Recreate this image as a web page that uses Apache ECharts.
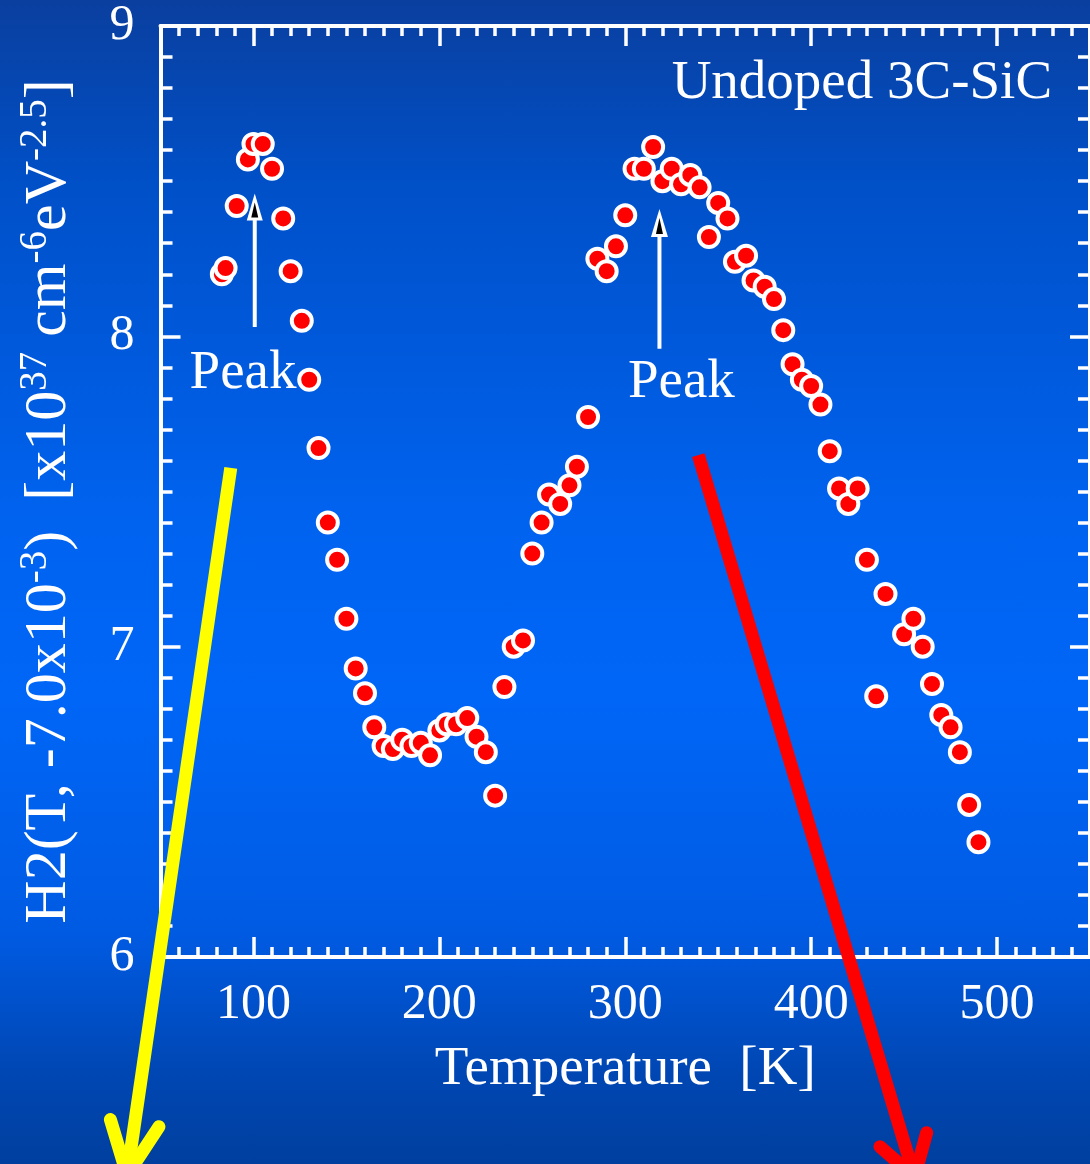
<!DOCTYPE html>
<html>
<head>
<meta charset="utf-8">
<title>H2(T) spectrum – undoped 3C-SiC</title>
<script src="https://cdn.jsdelivr.net/npm/echarts@6/dist/echarts.min.js"></script>
<style>
  html, body { margin: 0; padding: 0; }
  #chart {
    width: 1090px; height: 1164px;
    background: linear-gradient(to bottom, #0a3f9f 0%, #0050c8 16%, #0063f0 45%, #0066f7 60%, #005be3 80%, #0047b4 92%, #003f9e 100%);
  }
</style>
</head>
<body>
<div id="chart"></div>
<script>
// Measured H2(T, -7.0x10^-3) values versus temperature
const temperatureK = [
  83, 85, 91, 97, 100, 105, 110, 116, 120, 126, 130, 135,
  140, 145, 150, 155, 160, 165, 170, 175, 180, 185, 190, 195,
  200, 204, 209, 215, 220, 225, 230, 235, 240, 245, 250, 255,
  259, 265, 270, 274, 280, 285, 290, 295, 300, 305, 310, 315,
  320, 325, 330, 335, 340, 345, 350, 355, 359, 365, 369, 375,
  380, 385, 390, 395, 400, 405, 410, 415, 420, 425, 430, 435,
  440, 450, 455, 460, 465, 470, 475, 480, 485, 490
];
const h2Values = [
  8.20, 8.22, 8.42, 8.57, 8.62, 8.62, 8.54, 8.38, 8.21, 8.05, 7.86, 7.64,
  7.40, 7.28, 7.09, 6.93, 6.85, 6.74, 6.68, 6.67, 6.70, 6.68, 6.69, 6.65,
  6.73, 6.75, 6.75, 6.77, 6.71, 6.66, 6.52, 6.87, 7.00, 7.02, 7.30, 7.40,
  7.49, 7.46, 7.52, 7.58, 7.74, 8.25, 8.21, 8.29, 8.39, 8.54, 8.54, 8.61,
  8.50, 8.54, 8.49, 8.52, 8.48, 8.32, 8.43, 8.38, 8.24, 8.26, 8.18, 8.16,
  8.12, 8.02, 7.91, 7.86, 7.84, 7.78, 7.63, 7.51, 7.46, 7.51, 7.28, 6.84,
  7.17, 7.04, 7.09, 7.00, 6.88, 6.78, 6.74, 6.66, 6.49, 6.37
];

// Axis ranges and labelled ticks
const xRange = [50, 550];
const xMajorTicks = [100, 200, 300, 400, 500];
const yRange = [6, 9];

// Annotations, in data units
const peakArrows = [
  { x: 100.7, from: 8.03, to: 8.46, head: 27, half: 8 },
  { x: 318.4, from: 7.96, to: 8.41, head: 28, half: 8.5 }
];
const noteTexts = [
  { text: 'Peak', x: 94.4, y: 7.88, align: 'center' },
  { text: 'Peak', x: 330.2, y: 7.85, align: 'center' },
  { text: 'Undoped 3C-SiC', x: 529.6, y: 8.815, align: 'right' }
];
const trendArrows = [
  { color: '#ffff00', from: [87.8, 7.576], to: [32.0, 5.297], armLen: 58, armDeg: 25 },
  { color: '#ff0000', from: [339.3, 7.617], to: [455.6, 5.291], armLen: 46, armDeg: 32 }
];

const WHITE = '#ffffff';
const SERIF = "'Liberation Serif', 'Times New Roman', serif";
const axisLineStyle = { color: WHITE, width: 4 };
const tickLineStyle = { color: WHITE, width: 3.5 };

function xAxisMajor(position, withLabels) {
  return {
    type: 'value', position: position, min: xRange[0], max: xRange[1],
    axisLine: { show: true, onZero: false, lineStyle: axisLineStyle },
    axisTick: { show: true, inside: true, length: 20, customValues: xMajorTicks, lineStyle: tickLineStyle },
    axisLabel: withLabels
      ? { show: true, customValues: xMajorTicks, color: WHITE, fontSize: 50, fontFamily: SERIF, margin: 23 }
      : { show: false },
    splitLine: { show: false }
  };
}
function xAxisMinor(position) {
  return {
    type: 'value', position: position, min: xRange[0], max: xRange[1], interval: 10,
    axisLine: { show: false, onZero: false },
    axisTick: { show: true, inside: true, length: 10, lineStyle: tickLineStyle },
    axisLabel: { show: false },
    splitLine: { show: false }
  };
}
function yAxisFrame(position, withLabels) {
  return {
    type: 'value', position: position, min: yRange[0], max: yRange[1], interval: 1,
    axisLine: { show: true, onZero: false, lineStyle: axisLineStyle },
    axisTick: { show: true, inside: true, length: 20, lineStyle: tickLineStyle },
    minorTick: { show: true, splitNumber: 10, length: 12, lineStyle: tickLineStyle },
    axisLabel: withLabels
      ? { show: true, color: WHITE, fontSize: 50, fontFamily: SERIF, margin: 26 }
      : { show: false },
    splitLine: { show: false }
  };
}

const bottomX = xAxisMajor('bottom', true);
bottomX.name = 'Temperature  [K]';
bottomX.nameLocation = 'middle';
bottomX.nameGap = 85;
bottomX.nameTextStyle = { color: WHITE, fontSize: 55, fontFamily: SERIF };

const leftY = yAxisFrame('left', true);
leftY.name = '{m|H2(T, -7.0x10}{s|-3}{m|)  [x10}{s|37}{m| cm}{s|-6}{m|eV}{s|-2.5}{m|]}';
leftY.nameLocation = 'middle';
leftY.nameRotate = 90;
leftY.nameGap = 78;
leftY.nameTextStyle = {
  color: WHITE, fontFamily: SERIF,
  padding: [0, 20, 0, 0],
  rich: {
    m: { color: WHITE, fontFamily: SERIF, fontSize: 60, lineHeight: 66 },
    s: { color: WHITE, fontFamily: SERIF, fontSize: 39, lineHeight: 38, verticalAlign: 'top' }
  }
};

const chart = echarts.init(document.getElementById('chart'), null, { renderer: 'canvas' });
chart.setOption({
  animation: false,
  backgroundColor: 'transparent',
  grid: { left: 160.5, top: 26, width: 932.5, height: 931, containLabel: false },
  xAxis: [bottomX, xAxisMinor('bottom'), xAxisMajor('top', false), xAxisMinor('top')],
  yAxis: [leftY, yAxisFrame('right', false)],
  series: [{
    type: 'scatter',
    xAxisIndex: 0, yAxisIndex: 0,
    data: temperatureK.map((t, i) => [t, h2Values[i]]),
    symbol: 'circle',
    symbolSize: 20,
    itemStyle: { color: '#ff0000', borderColor: WHITE, borderWidth: 4, opacity: 1 },
    z: 5
  }]
});

// Annotations placed through the series' coordinate system
const toPx = (pt) => chart.convertToPixel({ seriesIndex: 0 }, pt);
const elements = [];

noteTexts.forEach((n) => {
  const p = toPx([n.x, n.y]);
  elements.push({
    type: 'text', x: p[0], y: p[1], z: 1,
    style: { text: n.text, fill: WHITE, font: '55px ' + SERIF, align: n.align, verticalAlign: 'middle' }
  });
});

peakArrows.forEach((a) => {
  const base = toPx([a.x, a.from]);
  const tip = toPx([a.x, a.to]);
  const hb = tip[1] + a.head;
  elements.push({
    type: 'line', z: 4,
    shape: { x1: base[0], y1: base[1], x2: tip[0], y2: hb - 2 },
    style: { stroke: WHITE, lineWidth: 4 }
  });
  elements.push({
    type: 'polygon', z: 4,
    shape: { points: [[tip[0], tip[1]], [tip[0] - a.half, hb], [tip[0] + a.half, hb]] },
    style: { fill: WHITE }
  });
  elements.push({
    type: 'polygon', z: 4,
    shape: { points: [[tip[0], tip[1] + 9], [tip[0] - 3.5, hb - 3], [tip[0] + 3.5, hb - 3]] },
    style: { fill: '#000000' }
  });
});

trendArrows.forEach((a) => {
  const p0 = toPx(a.from);
  const p1 = toPx(a.to);
  const ang = Math.atan2(p1[1] - p0[1], p1[0] - p0[0]);
  const da = a.armDeg * Math.PI / 180;
  const arm = (s) => [p1[0] - a.armLen * Math.cos(ang + s * da), p1[1] - a.armLen * Math.sin(ang + s * da)];
  elements.push({
    type: 'line', z: 20,
    shape: { x1: p0[0], y1: p0[1], x2: p1[0], y2: p1[1] },
    style: { stroke: a.color, lineWidth: 13 }
  });
  elements.push({
    type: 'polyline', z: 20,
    shape: { points: [arm(1), p1, arm(-1)] },
    style: { stroke: a.color, lineWidth: 13, lineCap: 'round', lineJoin: 'round', fill: null }
  });
});

chart.setOption({ graphic: { elements: elements } });
</script>
</body>
</html>
